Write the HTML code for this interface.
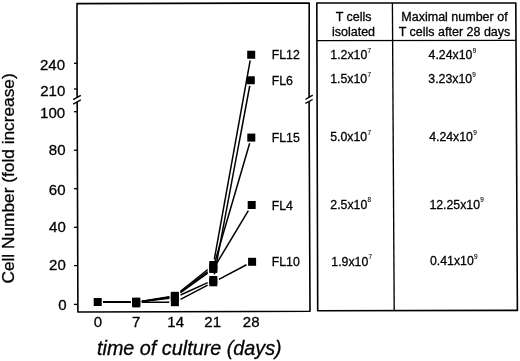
<!DOCTYPE html>
<html><head><meta charset="utf-8"><style>
html,body{margin:0;padding:0;background:#fff;}
body{width:520px;height:361px;position:relative;overflow:hidden;font-family:"Liberation Sans", sans-serif;}
</style></head><body>
<svg width="520" height="361" viewBox="0 0 520 361" style="position:absolute;left:0;top:0;will-change:transform">
<line x1="103.3" y1="302.04" x2="130.6" y2="302.26" stroke="#000" stroke-width="1.5"/>
<line x1="141.8" y1="301.36" x2="169.3" y2="296.74" stroke="#000" stroke-width="1.5"/>
<line x1="180.5" y1="291.31" x2="207.7" y2="269.49" stroke="#000" stroke-width="1.5"/>
<line x1="214.31" y1="259.4" x2="250.19" y2="60.35" stroke="#000" stroke-width="1.5"/>
<line x1="103.3" y1="302.04" x2="130.6" y2="302.26" stroke="#000" stroke-width="1.5"/>
<line x1="141.8" y1="301.62" x2="169.3" y2="298.28" stroke="#000" stroke-width="1.5"/>
<line x1="180.5" y1="295.03" x2="207.7" y2="282.57" stroke="#000" stroke-width="1.5"/>
<line x1="214.35" y1="274.4" x2="249.75" y2="85.85" stroke="#000" stroke-width="1.5"/>
<line x1="103.3" y1="302.04" x2="130.6" y2="302.26" stroke="#000" stroke-width="1.5"/>
<line x1="141.8" y1="301.43" x2="169.3" y2="297.17" stroke="#000" stroke-width="1.5"/>
<line x1="180.5" y1="292.1" x2="207.7" y2="271.7" stroke="#000" stroke-width="1.5"/>
<line x1="214.94" y1="261.9" x2="249.66" y2="143.2" stroke="#000" stroke-width="1.5"/>
<line x1="103.3" y1="302.04" x2="130.6" y2="302.26" stroke="#000" stroke-width="1.5"/>
<line x1="141.8" y1="301.5" x2="169.3" y2="297.6" stroke="#000" stroke-width="1.5"/>
<line x1="180.5" y1="292.75" x2="207.7" y2="273.05" stroke="#000" stroke-width="1.5"/>
<line x1="216.66" y1="263.4" x2="248.34" y2="210.6" stroke="#000" stroke-width="1.5"/>
<line x1="103.3" y1="302.04" x2="130.6" y2="302.26" stroke="#000" stroke-width="1.5"/>
<line x1="141.8" y1="302.29" x2="169.3" y2="302.21" stroke="#000" stroke-width="1.5"/>
<line x1="180.5" y1="299.3" x2="207.7" y2="285.2" stroke="#000" stroke-width="1.5"/>
<line x1="218.9" y1="279.34" x2="246.5" y2="264.76" stroke="#000" stroke-width="1.5"/>
<rect x="93.70" y="298.00" width="8.0" height="8.0" fill="#000"/>
<rect x="132.20" y="297.60" width="8.0" height="8.0" fill="#000"/>
<rect x="132.20" y="298.30" width="8.0" height="8.0" fill="#000"/>
<rect x="132.20" y="299.40" width="8.0" height="8.0" fill="#000"/>
<rect x="170.90" y="291.80" width="8.0" height="8.0" fill="#000"/>
<rect x="170.90" y="292.30" width="8.0" height="8.0" fill="#000"/>
<rect x="170.90" y="292.80" width="8.0" height="8.0" fill="#000"/>
<rect x="170.90" y="293.60" width="8.0" height="8.0" fill="#000"/>
<rect x="170.90" y="298.20" width="8.0" height="8.0" fill="#000"/>
<rect x="209.30" y="261.00" width="8.0" height="8.0" fill="#000"/>
<rect x="209.30" y="263.50" width="8.0" height="8.0" fill="#000"/>
<rect x="209.30" y="265.00" width="8.0" height="8.0" fill="#000"/>
<rect x="209.30" y="276.00" width="8.0" height="8.0" fill="#000"/>
<rect x="209.30" y="278.30" width="8.0" height="8.0" fill="#000"/>
<rect x="246.80" y="76.25" width="8.0" height="8.0" fill="#000"/>
<rect x="247.20" y="50.75" width="8.0" height="8.0" fill="#000"/>
<rect x="247.30" y="133.60" width="8.0" height="8.0" fill="#000"/>
<rect x="247.70" y="201.00" width="8.0" height="8.0" fill="#000"/>
<rect x="248.10" y="257.80" width="8.0" height="8.0" fill="#000"/>
<path d="M77.1,97.5 L77.0,3.6 L309.2,3.0 L309.1,97.5" fill="none" stroke="#000" stroke-width="1.6" stroke-linejoin="round"/>
<path d="M77.2,101.8 L77.9,312.0 L310.0,311.3 L309.1,101.5" fill="none" stroke="#000" stroke-width="1.6" stroke-linejoin="round"/>
<path d="M316.8,3.0 L515.8,3.0 L517.4,310.4 L317.7,310.8 Z" fill="none" stroke="#000" stroke-width="1.6" stroke-linejoin="round"/>
<line x1="316.9" y1="40.6" x2="516.0" y2="40.3" stroke="#000" stroke-width="1.35"/>
<line x1="392.4" y1="3.0" x2="394.2" y2="310.6" stroke="#000" stroke-width="1.35"/>
<line x1="74.0" y1="63.3" x2="77.3" y2="63.3" stroke="#000" stroke-width="1.3"/>
<line x1="74.0" y1="89.0" x2="77.3" y2="89.0" stroke="#000" stroke-width="1.3"/>
<line x1="74.0" y1="111.7" x2="77.3" y2="111.7" stroke="#000" stroke-width="1.3"/>
<line x1="74.0" y1="150.25" x2="77.3" y2="150.25" stroke="#000" stroke-width="1.3"/>
<line x1="74.0" y1="188.7" x2="77.3" y2="188.7" stroke="#000" stroke-width="1.3"/>
<line x1="74.0" y1="227.3" x2="77.3" y2="227.3" stroke="#000" stroke-width="1.3"/>
<line x1="74.0" y1="265.6" x2="77.3" y2="265.6" stroke="#000" stroke-width="1.3"/>
<line x1="74.0" y1="304.4" x2="77.3" y2="304.4" stroke="#000" stroke-width="1.3"/>
<line x1="73.2" y1="99.6" x2="80.8" y2="95.3" stroke="#000" stroke-width="1.4"/>
<line x1="73.2" y1="104.2" x2="80.8" y2="99.9" stroke="#000" stroke-width="1.4"/>
<line x1="305.4" y1="99.5" x2="312.7" y2="95.2" stroke="#000" stroke-width="1.4"/>
<line x1="305.4" y1="103.4" x2="312.7" y2="99.5" stroke="#000" stroke-width="1.4"/>
<g font-family='"Liberation Sans", sans-serif' fill="#000" stroke="#000" stroke-width="0.3">
<text x="65.0" y="69.8" font-size="15" text-anchor="end" >240</text>
<text x="65.3" y="96.0" font-size="15" text-anchor="end" >210</text>
<text x="65.1" y="118.2" font-size="15" text-anchor="end" >100</text>
<text x="65.5" y="155.1" font-size="15" text-anchor="end" >80</text>
<text x="65.5" y="194.7" font-size="15" text-anchor="end" >60</text>
<text x="65.8" y="232.3" font-size="15" text-anchor="end" >40</text>
<text x="65.8" y="270.3" font-size="15" text-anchor="end" >20</text>
<text x="66.6" y="310.4" font-size="15" text-anchor="end" >0</text>
<text x="97.8" y="326.8" font-size="15" text-anchor="middle" >0</text>
<text x="136.1" y="326.8" font-size="15" text-anchor="middle" >7</text>
<text x="175.7" y="326.8" font-size="15" text-anchor="middle" >14</text>
<text x="212.7" y="326.8" font-size="15" text-anchor="middle" >21</text>
<text x="251.2" y="326.8" font-size="15" text-anchor="middle" >28</text>
<text x="97.0" y="355.3" font-size="19.8" text-anchor="start" font-style="italic">time of culture (days)</text>
<text transform="translate(14.3,283.6) rotate(-90)" font-size="17.3">Cell Number (fold increase)</text>
<text x="271.7" y="59.2" font-size="12.3" text-anchor="start" >FL12</text>
<text x="271.7" y="84.9" font-size="12.3" text-anchor="start" >FL6</text>
<text x="271.7" y="141.9" font-size="12.3" text-anchor="start" >FL15</text>
<text x="271.7" y="209.7" font-size="12.3" text-anchor="start" >FL4</text>
<text x="271.7" y="265.5" font-size="12.3" text-anchor="start" >FL10</text>
<text x="353.6" y="20.8" font-size="12.5" text-anchor="middle" >T cells</text>
<text x="353.5" y="35.9" font-size="12.5" text-anchor="middle" >isolated</text>
<text x="454.5" y="21.2" font-size="12.5" text-anchor="middle" >Maximal number of</text>
<text x="454.5" y="35.8" font-size="12.5" text-anchor="middle" >T cells after 28 days</text>
<text x="330.3" y="59.2" font-size="12.3">1.2x10<tspan font-size="6.4" dy="-6.3" dx="0.3" stroke-width="0.1">7</tspan></text>
<text x="330.2" y="83.1" font-size="12.3">1.5x10<tspan font-size="6.4" dy="-6.3" dx="0.3" stroke-width="0.1">7</tspan></text>
<text x="330.2" y="141.4" font-size="12.3">5.0x10<tspan font-size="6.4" dy="-6.3" dx="0.3" stroke-width="0.1">7</tspan></text>
<text x="330.3" y="208.6" font-size="12.3">2.5x10<tspan font-size="6.4" dy="-6.3" dx="0.3" stroke-width="0.1">8</tspan></text>
<text x="331.3" y="265.6" font-size="12.3">1.9x10<tspan font-size="6.4" dy="-6.3" dx="0.3" stroke-width="0.1">7</tspan></text>
<text x="428.6" y="58.9" font-size="12.3">4.24x10<tspan font-size="6.4" dy="-6.3" dx="0.3" stroke-width="0.1">9</tspan></text>
<text x="428.3" y="83.1" font-size="12.3">3.23x10<tspan font-size="6.4" dy="-6.3" dx="0.3" stroke-width="0.1">9</tspan></text>
<text x="429.2" y="141.2" font-size="12.3">4.24x10<tspan font-size="6.4" dy="-6.3" dx="0.3" stroke-width="0.1">9</tspan></text>
<text x="429.4" y="208.5" font-size="12.3">12.25x10<tspan font-size="6.4" dy="-6.3" dx="0.3" stroke-width="0.1">9</tspan></text>
<text x="430.0" y="265.4" font-size="12.3">0.41x10<tspan font-size="6.4" dy="-6.3" dx="0.3" stroke-width="0.1">9</tspan></text>
</g>
</svg>
</body></html>
